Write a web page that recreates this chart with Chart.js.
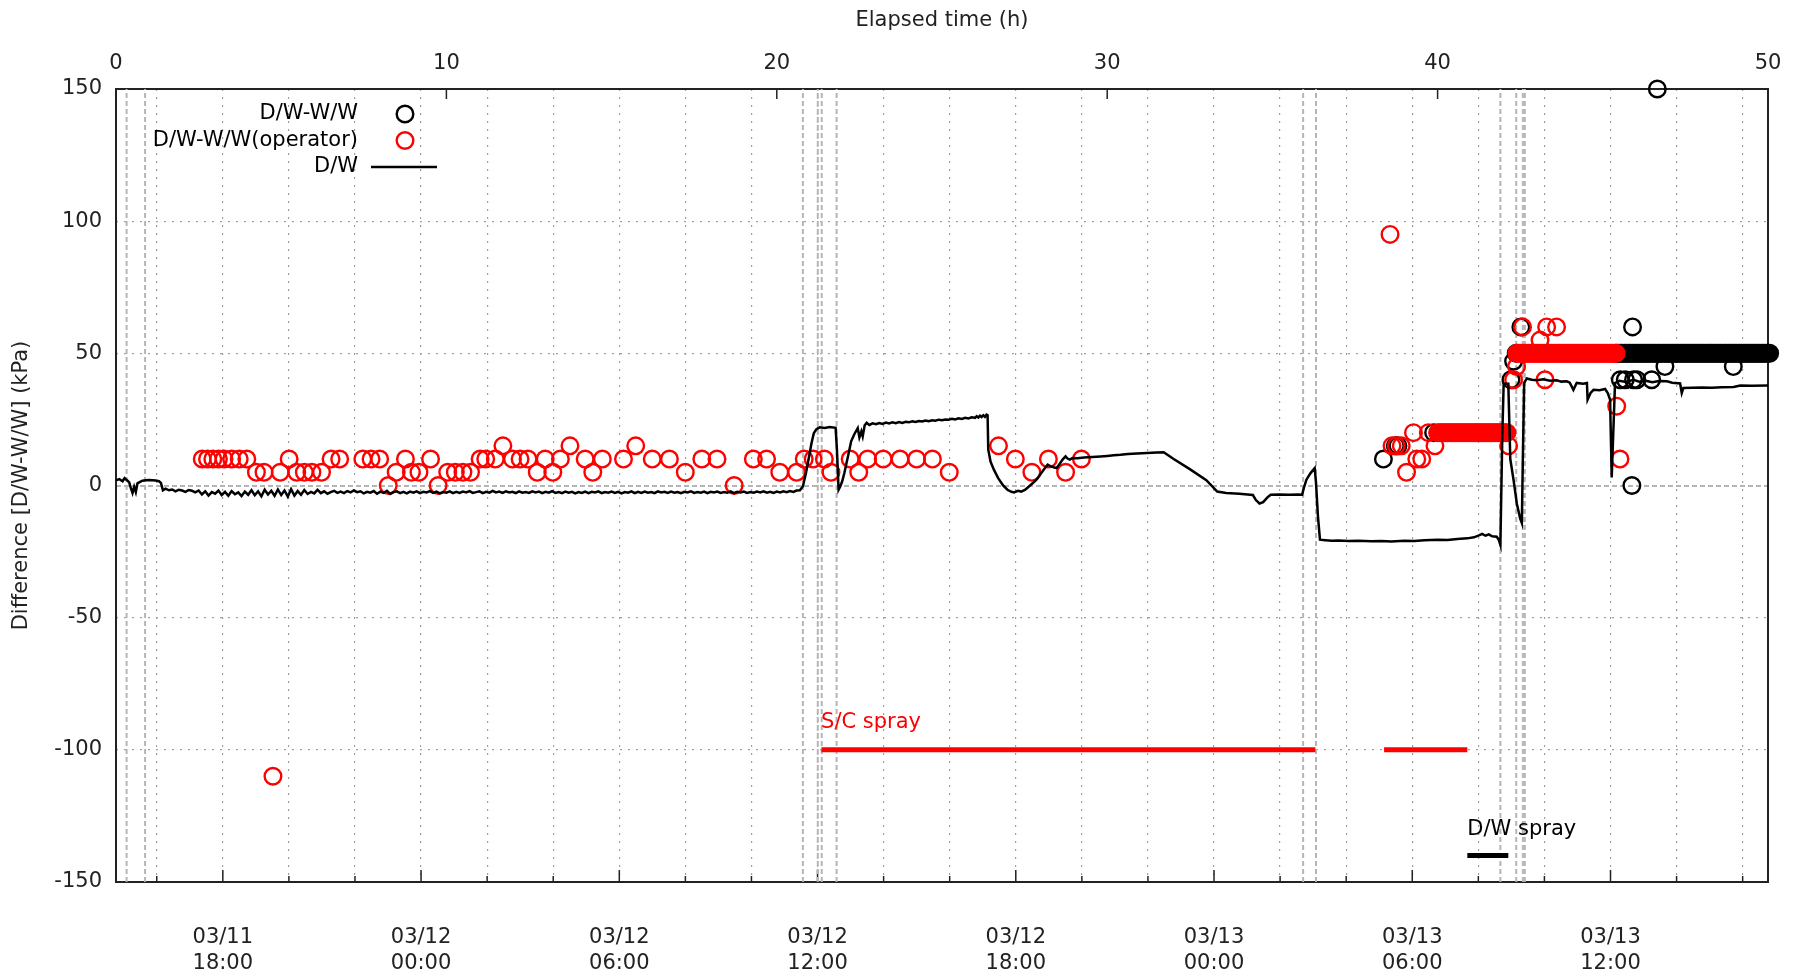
<!DOCTYPE html>
<html><head><meta charset="utf-8">
<script src="https://cdn.jsdelivr.net/npm/chart.js@4"></script>
<style>html,body{margin:0;padding:0;background:#fff}#wrap{width:1798px;height:973px;position:relative}</style>
</head><body><div id="wrap"><canvas id="c"></canvas></div>
<script>
const FONT = 'DejaVu Sans';
// ---- axes / ticks ----
const elapsedTicks = [0, 10, 20, 30, 40, 50];
const yTicks = [-150, -100, -50, 0, 50, 100, 150];
const dateGridHours = [1.233, 3.233, 5.233, 7.233, 9.233, 11.233, 13.233, 15.233, 17.233, 19.233, 21.233, 23.233, 25.233, 27.233, 29.233, 31.233, 33.233, 35.233, 37.233, 39.233, 41.233, 43.233, 45.233, 47.233, 49.233];
const dateLabelHours = [3.233, 9.233, 15.233, 21.233, 27.233, 33.233, 39.233, 45.233];
const dateLabels = [['03/11','18:00'],['03/12','00:00'],['03/12','06:00'],['03/12','12:00'],['03/12','18:00'],['03/13','00:00'],['03/13','06:00'],['03/13','12:00']];
const eventHours = [0.32, 0.88, 20.79, 21.24, 21.36, 21.81, 35.93, 36.32, 41.9, 42.38, 42.58, 42.64];
// ---- spray periods ----
const scSprayStart = [21.35, 38.38];
const scSprayEnd = [36.3, 40.9];
const scSprayLevel = -100;
const dwSprayStart = [40.9];
const dwSprayEnd = [42.14];
const dwSprayLevel = -140;
const annotText = ['S/C spray', 'D/W spray'];
const annotHour = [21.34, 40.9];
const annotLevel = [-89.5, -130];
// ---- series: D/W-W/W (black circles) ----
const wwT = [38.36, 38.72, 38.80, 39.88, 42.22, 42.30, 42.38, 42.52, 45.53, 45.68, 45.88, 45.90, 45.93, 46.03, 46.48, 46.65, 46.88, 48.95,
 45.40,45.45,45.50,45.55,45.60,45.65,45.70,45.75,45.80,45.85,
 45.90,45.95,46.00,46.05,46.10,46.15,46.20,46.25,46.30,46.35,
 46.40,46.45,46.50,46.55,46.60,46.65,46.70,46.75,46.80,46.85,
 46.90,46.95,47.00,47.05,47.10,47.15,47.20,47.25,47.30,47.35,
 47.40,47.45,47.50,47.55,47.60,47.65,47.70,47.75,47.80,47.85,
 47.90,47.95,48.00,48.05,48.10,48.15,48.20,48.25,48.30,48.35,
 48.40,48.45,48.50,48.55,48.60,48.65,48.70,48.75,48.80,48.85,
 48.90,48.95,49.00,49.05,49.10,49.15,49.20,49.25,49.30,49.35,
 49.40,49.45,49.50,49.55,49.60,49.65,49.70,49.75,49.80,49.85,
 49.90,49.95,50.00,50.05];
const wwV = [10, 15, 15, 20, 40, 47, 50, 60, 40, 40, 0, 60, 40, 40, 40, 150, 45, 45,
 50,50,50,50,50,50,50,50,50,50,
 50,50,50,50,50,50,50,50,50,50,
 50,50,50,50,50,50,50,50,50,50,
 50,50,50,50,50,50,50,50,50,50,
 50,50,50,50,50,50,50,50,50,50,
 50,50,50,50,50,50,50,50,50,50,
 50,50,50,50,50,50,50,50,50,50,
 50,50,50,50,50,50,50,50,50,50,
 50,50,50,50,50,50,50,50,50,50,
 50,50,50,50];
// ---- series: D/W-W/W(operator) (red circles) ----
const opT = [2.61,2.77,2.93,3.10,3.27,3.50,3.73,3.96,
 4.25,4.48,4.75,4.97,5.24,5.47,5.70,5.93,6.22,6.51,6.77,
 7.47,7.72,7.98,8.24,8.48,8.76,8.94,9.17,9.52,9.75,
 10.04,10.27,10.50,10.73,11.02,11.19,11.48,11.71,12.00,12.23,12.47,12.75,12.99,13.22,13.45,13.74,
 14.20,14.43,14.72,15.36,15.73,16.23,16.75,17.23,17.73,18.19,18.71,19.29,19.69,
 20.09,20.60,20.83,21.10,21.44,21.64,22.22,22.48,22.75,23.22,23.73,24.23,24.71,25.22,
 26.71,27.22,27.72,28.22,28.74,29.22,
 38.56,38.62,38.75,38.90,39.06,39.27,39.37,39.52,39.72,39.92,
 40.00,40.05,40.10,40.15,40.20,40.25,40.30,40.35,40.40,40.45,
 40.50,40.55,40.60,40.65,40.70,40.75,40.80,40.85,40.90,40.95,
 41.00,41.05,41.10,41.15,41.20,41.25,41.30,41.35,41.40,41.45,
 41.50,41.55,41.60,41.65,41.70,41.75,41.80,41.85,41.90,41.95,
 42.00,42.05,42.10,
 42.15,42.30,42.39,42.57,43.10,43.25,43.30,43.60,45.42,45.52,
 42.40,42.45,42.50,42.55,42.60,42.65,42.70,42.75,42.80,42.85,
 42.90,42.95,43.00,43.05,43.10,43.15,43.20,43.25,43.30,43.35,
 43.40,43.45,43.50,43.55,43.60,43.65,43.70,43.75,43.80,43.85,
 43.90,43.95,44.00,44.05,44.10,44.15,44.20,44.25,44.30,44.35,
 44.40,44.45,44.50,44.55,44.60,44.65,44.70,44.75,44.80,44.85,
 44.90,44.95,45.00,45.05,45.10,45.15,45.20,45.25,45.30,45.35,
 45.40];
const opV = [10,10,10,10,10,10,10,10,
 5,5,-110,5,10,5,5,5,5,10,10,
 10,10,10,0,5,10,5,5,10,0,
 5,5,5,5,10,10,10,15,10,10,10,5,10,5,10,15,
 10,5,10,10,15,10,10,5,10,10,0,10,10,
 5,5,10,10,10,5,10,5,10,10,10,10,10,5,
 15,10,5,10,5,10,
 95,15,15,15,5,20,10,10,20,15,
 20,20,20,20,20,20,20,20,20,20,
 20,20,20,20,20,20,20,20,20,20,
 20,20,20,20,20,20,20,20,20,20,
 20,20,20,20,20,20,20,20,20,20,
 20,20,20,
 15,40,45,60,55,40,60,60,30,10,
 50,50,50,50,50,50,50,50,50,50,
 50,50,50,50,50,50,50,50,50,50,
 50,50,50,50,50,50,50,50,50,50,
 50,50,50,50,50,50,50,50,50,50,
 50,50,50,50,50,50,50,50,50,50,
 50,50,50,50,50,50,50,50,50,50,
 50];
// ---- series: D/W (black line) ----
const dwT = [0.00,0.10,0.20,0.26,0.35,0.40,0.45,0.50,0.55,0.60,
 0.65,0.70,0.80,0.90,1.00,1.10,1.20,1.30,1.36,1.42,
 1.5,1.6,1.7,1.8,1.9,2.0,2.1,2.2,2.3,2.4,
 2.5,2.6,2.7,2.8,2.9,3.0,3.1,3.2,3.3,3.4,
 3.5,3.6,3.7,3.8,3.9,4.0,4.1,4.2,4.3,4.4,
 4.5,4.6,4.7,4.8,4.9,5.0,5.1,5.2,5.3,5.4,
 5.5,5.6,5.7,5.8,5.9,6.0,6.1,6.2,6.3,6.4,
 6.5,6.6,6.7,6.8,6.9,7.0,7.1,7.2,7.3,7.4,
 7.5,7.6,7.7,7.8,7.9,8.0,8.1,8.2,8.3,8.4,
 8.5,8.6,8.7,8.8,8.9,9.0,9.1,9.2,9.3,9.4,
 9.5,9.6,9.7,9.8,9.9,10.0,10.1,10.2,10.3,10.4,
 10.5,10.6,10.7,10.8,10.9,11.0,11.1,11.2,11.3,11.4,
 11.5,11.6,11.7,11.8,11.9,12.0,12.1,12.2,12.3,12.4,
 12.5,12.6,12.7,12.8,12.9,13.0,13.1,13.2,13.3,13.4,
 13.5,13.6,13.7,13.8,13.9,14.0,14.1,14.2,14.3,14.4,
 14.5,14.6,14.7,14.8,14.9,15.0,15.1,15.2,15.3,15.4,
 15.5,15.6,15.7,15.8,15.9,16.0,16.1,16.2,16.3,16.4,
 16.5,16.6,16.7,16.8,16.9,17.0,17.1,17.2,17.3,17.4,
 17.5,17.6,17.7,17.8,17.9,18.0,18.1,18.2,18.3,18.4,
 18.5,18.6,18.7,18.8,18.9,19.0,19.1,19.2,19.3,19.4,
 19.5,19.6,19.7,19.8,19.9,20.0,20.1,20.2,20.3,20.4,
 20.5,20.6,20.7,
 20.79,20.88,20.96,21.05,21.12,21.2,21.3,21.45,21.6,21.78,
 21.82,21.87,21.92,21.98,22.05,22.11,22.18,22.25,22.35,22.45,
 22.5,22.56,22.6,22.66,22.72,22.8,22.9,23.0,23.1,23.2,
 23.3,23.4,23.5,23.6,23.7,23.8,23.9,24.0,24.1,24.2,
 24.3,24.4,24.5,24.6,24.7,24.8,24.9,25.0,25.1,25.2,
 25.3,25.4,25.5,25.6,25.7,25.8,25.9,26.0,26.05,26.1,
 26.15,26.2,26.25,26.3,26.35,26.38,26.4,26.47,26.57,26.7,
 26.85,26.98,27.1,27.18,27.3,27.4,27.52,27.7,27.86,28.0,
 28.1,28.2,28.3,28.4,28.47,28.55,28.65,28.74,28.8,28.87,
 28.95,29.1,29.3,29.55,29.8,30.0,30.2,30.4,30.63,30.9,
 31.2,31.5,31.71,32.0,32.5,33.0,33.33,33.6,34.0,34.25,
 34.41,34.5,34.61,34.72,34.85,34.95,35.2,35.5,35.8,35.9,
 35.95,36.03,36.15,36.28,36.32,36.38,36.44,36.6,36.8,37.0,
 37.3,37.6,38.0,38.3,38.6,39.0,39.3,39.6,40.0,40.3,
 40.6,40.9,41.1,41.25,41.35,41.45,41.55,41.65,41.79,41.85,
 41.9,41.96,42.0,42.14,42.2,42.3,42.4,42.5,42.55,42.58,
 42.62,42.7,42.85,43.0,43.2,43.4,43.6,43.75,43.91,44.0,
 44.11,44.21,44.4,44.52,44.54,44.63,44.72,44.9,45.07,45.15,
 45.22,45.27,45.37,45.5,45.7,45.93,46.1,46.3,46.5,46.7,
 46.94,47.1,47.34,47.39,47.44,47.7,48.0,48.3,48.6,48.96,
 49.16,49.5,50.0];
const dwV = [2.0,2.4,1.6,2.8,1.8,1.2,-1.0,-2.8,-0.5,-2.5,
 0.8,1.2,1.8,2.0,2.1,2.0,1.9,1.6,1.0,-1.8,
 -1.2,-1.8,-1.5,-2.2,-1.6,-1.9,-2.4,-1.7,-2.0,-2.6,
 -1.9,-3.4,-2.2,-3.8,-2.5,-3.1,-1.9,-3.6,-2.4,-3.9,
 -2.1,-3.3,-2.6,-4.0,-2.3,-3.5,-1.8,-3.7,-2.2,-4.1,
 -1.6,-3.4,-2.0,-3.9,-1.5,-3.6,-1.9,-4.2,-1.4,-3.8,
 -2.1,-3.5,-1.7,-3.2,-2.4,-3.0,-1.6,-2.9,-2.2,-3.1,
 -2.5,-2.0,-2.8,-2.3,-2.9,-2.1,-2.6,-1.9,-2.5,-2.2,
 -3.0,-2.4,-2.7,-2.1,-3.1,-2.3,-2.8,-2.0,-3.2,-2.5,
 -2.2,-2.9,-2.4,-3.0,-2.3,-2.7,-2.2,-2.9,-2.4,-2.6,
 -2.1,-2.8,-2.3,-3.0,-2.5,-2.7,-2.2,-2.9,-2.4,-2.8,
 -2.3,-2.6,-2.1,-2.8,-2.5,-2.2,-2.9,-2.4,-2.7,-2.0,
 -2.6,-2.3,-2.8,-2.2,-2.6,-2.4,-2.9,-2.2,-2.7,-2.5,
 -2.8,-2.2,-2.6,-2.3,-2.9,-2.4,-2.7,-2.1,-2.8,-2.5,
 -2.9,-2.3,-2.7,-2.4,-3.0,-2.5,-2.8,-2.3,-2.9,-2.4,
 -2.6,-2.2,-2.9,-2.5,-2.7,-2.3,-2.8,-2.4,-3.0,-2.5,
 -2.7,-2.2,-2.9,-2.4,-2.8,-2.3,-2.7,-2.5,-2.9,-2.2,
 -2.6,-2.4,-2.8,-2.3,-2.7,-2.5,-2.9,-2.4,-2.6,-2.2,
 -2.8,-2.5,-2.7,-2.3,-2.9,-2.4,-2.6,-2.3,-2.8,-2.5,
 -2.7,-2.2,-2.9,-2.4,-2.6,-2.3,-2.8,-2.5,-2.7,-2.3,
 -2.6,-2.2,-2.7,-2.4,-2.8,-2.3,-2.6,-2.2,-2.5,-2.1,
 -2.4,-1.9,-1.8,
 -0.3,4.5,9.8,16,19.8,21.3,22,21.8,22.1,21.8,
 13.6,-1.6,-0.4,1.6,5.0,8.5,12.5,16.7,19.5,21.7,
 18.2,20.5,18.6,22.8,23.7,22.9,23.5,23.2,23.6,23.3,
 23.8,23.5,23.9,23.6,24.0,23.7,24.1,23.9,24.3,24.0,
 24.4,24.2,24.6,24.3,24.7,24.5,24.9,24.7,25.0,24.9,
 25.2,25.0,25.4,25.2,25.6,25.4,25.8,25.6,26.2,25.7,
 26.4,25.9,26.6,26.0,26.8,26.6,13.6,9,6,2.8,
 0,-1.6,-2.4,-2.6,-2.0,-2.3,-1.6,0.4,2.2,4.6,
 6.3,7.9,7.2,6.8,6.6,8.0,9.8,11.0,10.2,9.8,
 10.4,10.3,10.6,10.8,11.0,11.2,11.4,11.6,11.9,12.1,
 12.3,12.5,12.6,10.1,6.2,2.0,-2.3,-2.8,-3.1,-3.4,
 -3.6,-5.5,-6.8,-6.3,-4.5,-3.5,-3.4,-3.5,-3.4,-3.5,
 -1.0,2.2,4.6,6.6,1.0,-12,-20.5,-20.7,-20.9,-20.8,
 -21.0,-20.9,-21.1,-21.0,-21.2,-20.9,-21.0,-20.7,-20.5,-20.6,
 -20.2,-20.0,-19.6,-18.9,-18.3,-19.0,-18.5,-19.2,-19.4,-20.5,
 -22.5,20,38.5,38.5,10,2,-7,-12.5,-14.2,10,
 38.8,40.5,40,39.8,40.2,39.6,39.8,39.3,39.4,38.9,
 36.2,38.8,38.5,38.8,32.5,35,36.2,36,36.5,35,
 32.5,3,38.8,39.6,39.2,40,39.3,39.6,39.1,39.5,
 39.4,38.9,38.6,35,36.9,37,37.1,37.0,37.2,37.3,
 37.8,37.7,37.8];

const toXY = (T, V) => T.map((t, i) => ({x: t, y: V[i]}));
const R = 8.3, BW = 2.4;

const datasets = [];
eventHours.forEach(h => datasets.push({
  label: 'event', data: [{x: h, y: -150}, {x: h, y: 150}], showLine: true,
  borderColor: '#b5b5b5', borderWidth: 2, borderDash: [5, 3], pointRadius: 0, order: 20, isAux: true
}));
datasets.push({label: 'D/W-W/W', data: toXY(wwT, wwV), showLine: false, pointStyle: 'circle', pointRadius: R,
  pointBorderWidth: BW, pointBorderColor: '#000000', pointBackgroundColor: 'rgba(0,0,0,0)', order: 8, clip: false, legendKind: 'circle'});
datasets.push({label: 'D/W-W/W(operator)', data: toXY(opT, opV), showLine: false, pointStyle: 'circle', pointRadius: R,
  pointBorderWidth: BW, pointBorderColor: '#ff0000', pointBackgroundColor: 'rgba(0,0,0,0)', order: 7, clip: false, legendKind: 'circle'});
datasets.push({label: 'D/W', data: toXY(dwT, dwV), showLine: true, borderColor: '#000000', borderWidth: 2.5,
  pointRadius: 0, order: 2, legendKind: 'line'});
scSprayStart.forEach((s, i) => datasets.push({label: 'S/C spray', data: [{x: s, y: scSprayLevel}, {x: scSprayEnd[i], y: scSprayLevel}],
  showLine: true, borderColor: '#ff0000', borderWidth: 5, pointRadius: 0, order: 1, isAux: true, borderCapStyle: 'butt'}));
dwSprayStart.forEach((s, i) => datasets.push({label: 'D/W spray', data: [{x: s, y: dwSprayLevel}, {x: dwSprayEnd[i], y: dwSprayLevel}],
  showLine: true, borderColor: '#000000', borderWidth: 5, pointRadius: 0, order: 1, isAux: true, borderCapStyle: 'butt'}));

const frameAndTicks = {
  id: 'frameAndTicks',
  beforeDatasetsDraw(chart) {
    const {ctx, chartArea: a, scales} = chart;
    ctx.save();
    ctx.strokeStyle = '#222'; ctx.lineWidth = 1.5;
    dateGridHours.forEach(h => {
      const px = scales.x.getPixelForValue(h);
      const major = dateLabelHours.some(v => Math.abs(v - h) < 1e-6);
      ctx.beginPath(); ctx.moveTo(px, a.bottom); ctx.lineTo(px, a.bottom - (major ? 12 : 6)); ctx.stroke();
    });
    elapsedTicks.forEach(h => {
      const px = scales.x2.getPixelForValue(h);
      ctx.beginPath(); ctx.moveTo(px, a.top); ctx.lineTo(px, a.top + 10); ctx.stroke();
    });
    ctx.lineWidth = 2;
    ctx.strokeRect(a.left, a.top, a.right - a.left, a.bottom - a.top);
    ctx.restore();
  }
};

const textAndLegend = {
  id: 'textAndLegend',
  afterDatasetsDraw(chart) {
    const {ctx, chartArea: a, scales} = chart;
    ctx.save();
    ctx.font = '21px "' + FONT + '"';
    ctx.textBaseline = 'middle';
    ctx.textAlign = 'left';
    annotText.forEach((t, i) => {
      ctx.fillStyle = i === 0 ? '#ff0000' : '#000000';
      ctx.fillText(t, scales.x.getPixelForValue(annotHour[i]), scales.y.getPixelForValue(annotLevel[i]));
    });
    const items = chart.data.datasets.filter(d => d.legendKind);
    items.forEach((d, i) => {
      const y = a.top + 25 + i * 26.5;
      ctx.fillStyle = '#000';
      ctx.textAlign = 'right';
      ctx.fillText(d.label, a.left + 242, y);
      if (d.legendKind === 'circle') {
        ctx.beginPath(); ctx.arc(a.left + 289, y, R, 0, Math.PI * 2);
        ctx.lineWidth = BW; ctx.strokeStyle = d.pointBorderColor; ctx.stroke();
      } else {
        ctx.beginPath(); ctx.moveTo(a.left + 255, y); ctx.lineTo(a.left + 321, y);
        ctx.lineWidth = 2.5; ctx.strokeStyle = d.borderColor; ctx.stroke();
      }
    });
    ctx.restore();
  }
};

const tickFont = {family: FONT, size: 21};
new Chart(document.getElementById('c'), {
  type: 'scatter',
  data: {datasets},
  options: {
    responsive: true, maintainAspectRatio: false, animation: false, events: [],
    layout: {padding: {left: 0, right: 30, top: 0, bottom: 0}},
    plugins: {legend: {display: false}, tooltip: {enabled: false}},
    scales: {
      x: {
        type: 'linear', position: 'bottom', min: 0, max: 50,
        afterBuildTicks: s => { s.ticks = dateGridHours.map(v => ({value: v})); },
        afterFit: s => { s.height = 91; },
        ticks: {autoSkip: false, maxRotation: 0, minRotation: 0, padding: 42, color: '#222',
          font: {family: FONT, size: 21, lineHeight: 1.25},
          callback: v => { const i = dateLabelHours.findIndex(h => Math.abs(h - v) < 1e-6); return i >= 0 ? dateLabels[i] : ''; }},
        grid: {color: '#a0a0a0', lineWidth: 1.2, drawTicks: false},
        border: {display: false, dash: [2, 6]}
      },
      x2: {
        type: 'linear', position: 'top', min: 0, max: 50,
        afterBuildTicks: s => { s.ticks = elapsedTicks.map(v => ({value: v})); },
        afterFit: s => { s.height = 89; },
        ticks: {autoSkip: false, maxRotation: 0, padding: 13, color: '#222', font: tickFont},
        grid: {display: false, drawTicks: false},
        border: {display: false},
        title: {display: true, text: 'Elapsed time (h)', color: '#222', font: tickFont, padding: {top: 8, bottom: 0}}
      },
      y: {
        type: 'linear', position: 'left', min: -150, max: 150,
        afterBuildTicks: s => { s.ticks = yTicks.map(v => ({value: v})); },
        afterFit: s => { s.width = 116; },
        ticks: {padding: 14, color: '#222', font: tickFont},
        grid: {drawTicks: false,
          color: c => (c.tick && c.tick.value === 0) ? '#b5b5b5' : ((c.tick && Math.abs(c.tick.value) === 150) ? 'rgba(0,0,0,0)' : '#a0a0a0'),
          lineWidth: c => (c.tick && c.tick.value === 0) ? 2 : 1.2},
        border: {display: false, dash: c => (c.tick && c.tick.value === 0) ? [5, 3] : [2, 6]},
        title: {display: true, text: 'Difference [D/W-W/W] (kPa)', color: '#222', font: tickFont, padding: {top: 9, bottom: 0}}
      }
    }
  },
  plugins: [frameAndTicks, textAndLegend]
});
</script>
</body></html>
